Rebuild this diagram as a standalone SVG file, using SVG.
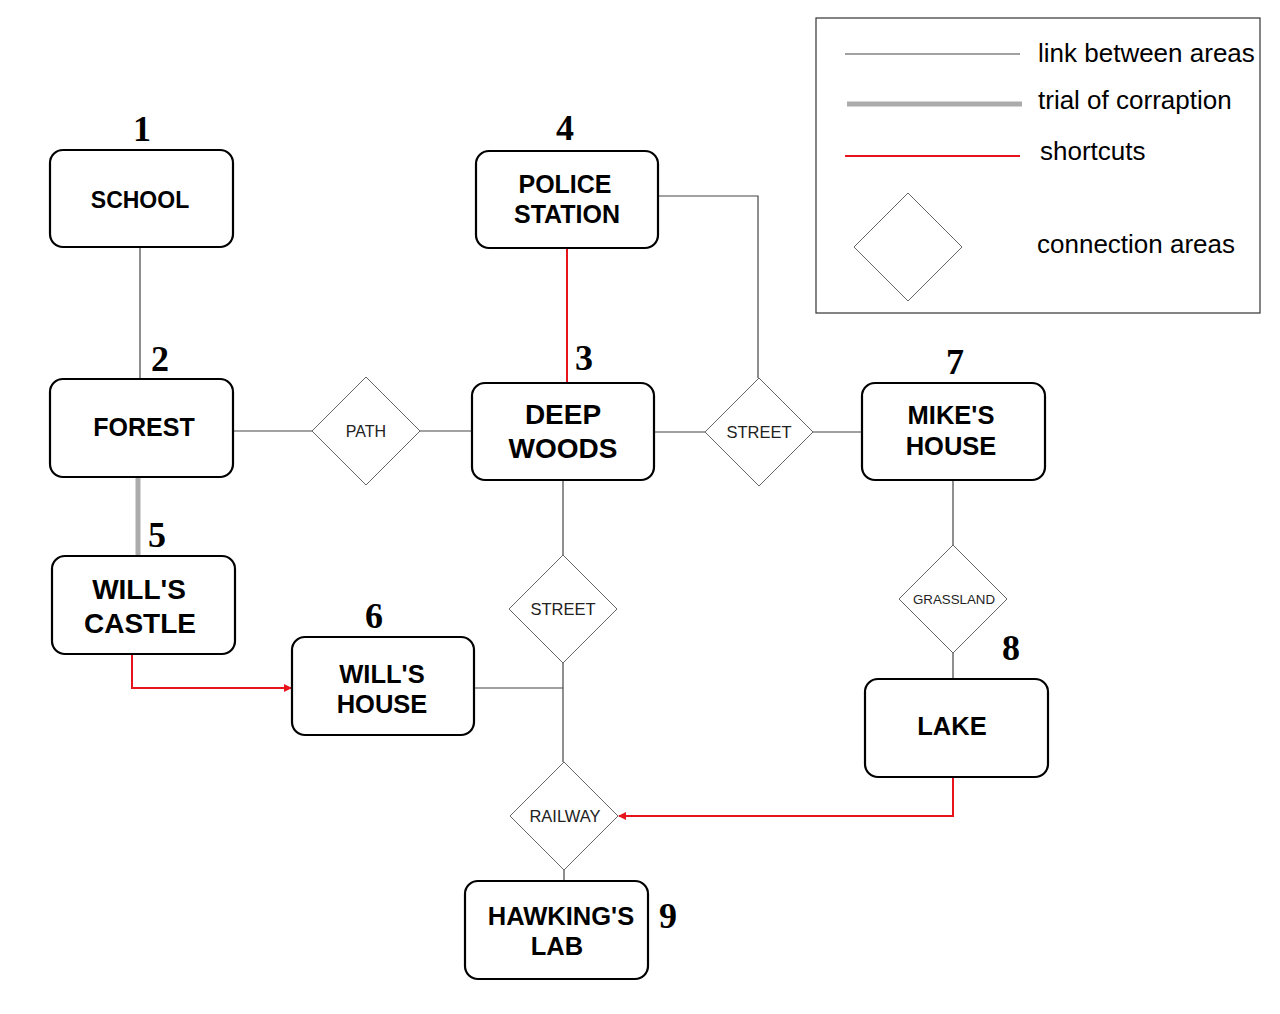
<svg xmlns="http://www.w3.org/2000/svg" width="1280" height="1014" viewBox="0 0 1280 1014">
<style>
.box{fill:#fff;stroke:#000;stroke-width:2.2}
.dia{fill:#fff;stroke:#666;stroke-width:1}
.lk{fill:none;stroke:#444;stroke-width:1.2}
.sc{fill:none;stroke:#e8141c;stroke-width:2}
.tr{fill:none;stroke:#ababab;stroke-width:5}
.nt{font-family:"Liberation Sans",Arial,sans-serif;font-weight:bold;fill:#000;text-anchor:middle}
.dt{font-family:"Liberation Sans",Arial,sans-serif;fill:#222;text-anchor:middle}
.num{font-family:"Liberation Serif","Times New Roman",serif;font-weight:bold;font-size:36px;fill:#000;text-anchor:middle}
.lg{font-family:"Liberation Sans",Arial,sans-serif;font-size:26px;fill:#000}
</style>
<defs>
<marker id="ar" markerWidth="8" markerHeight="8" refX="7" refY="4" orient="auto" markerUnits="userSpaceOnUse">
<path d="M0,0 L8,4 L0,8 Z" fill="#e8141c"/>
</marker>
</defs>
<rect width="1280" height="1014" fill="#fff"/>

<g id="connectors">
<line class="lk" x1="140" y1="247" x2="140" y2="379"/>
<line class="lk" x1="233" y1="431" x2="312" y2="431"/>
<line class="lk" x1="420" y1="431" x2="472" y2="431"/>
<line class="lk" x1="654" y1="432" x2="705" y2="432"/>
<line class="lk" x1="813" y1="432" x2="862" y2="432"/>
<polyline class="lk" points="658,196 758,196 758,378"/>
<line class="sc" x1="567" y1="249" x2="567" y2="383"/>
<line class="lk" x1="563" y1="480" x2="563" y2="555"/>
<line class="lk" x1="563" y1="663" x2="563" y2="762"/>
<line class="lk" x1="474" y1="688" x2="563" y2="688"/>
<line class="lk" x1="564" y1="870" x2="564" y2="881"/>
<line class="tr" x1="138" y1="477" x2="138" y2="556"/>
<polyline class="sc" points="132,654 132,688 291,688" marker-end="url(#ar)"/>
<line class="lk" x1="953" y1="480" x2="953" y2="545"/>
<line class="lk" x1="953" y1="653" x2="953" y2="679"/>
<polyline class="sc" points="953,777 953,816 619,816" marker-end="url(#ar)"/>
</g>

<g id="school">
<rect class="box" x="50" y="150" width="183" height="97" rx="13"/>
<text class="nt" x="140" y="208" font-size="23">SCHOOL</text>
<text class="num" x="142" y="141">1</text>
</g>
<g id="forest">
<rect class="box" x="50" y="379" width="183" height="98" rx="13"/>
<text class="nt" x="144" y="436" font-size="25">FOREST</text>
<text class="num" x="160" y="371">2</text>
</g>
<g id="deep-woods">
<rect class="box" x="472" y="383" width="182" height="97" rx="13"/>
<text class="nt" x="563" y="424" font-size="28">DEEP</text>
<text class="nt" x="563" y="458" font-size="28">WOODS</text>
<text class="num" x="584" y="370">3</text>
</g>
<g id="police-station">
<rect class="box" x="476" y="151" width="182" height="97" rx="13"/>
<text class="nt" x="565" y="193" font-size="25">POLICE</text>
<text class="nt" x="567" y="223" font-size="25">STATION</text>
<text class="num" x="565" y="140">4</text>
</g>
<g id="wills-castle">
<rect class="box" x="52" y="556" width="183" height="98" rx="13"/>
<text class="nt" x="139" y="599" font-size="28">WILL'S</text>
<text class="nt" x="140" y="633" font-size="28">CASTLE</text>
<text class="num" x="157" y="547">5</text>
</g>
<g id="wills-house">
<rect class="box" x="292" y="637" width="182" height="98" rx="13"/>
<text class="nt" x="382" y="683" font-size="25.5">WILL'S</text>
<text class="nt" x="382" y="713" font-size="25.5">HOUSE</text>
<text class="num" x="374" y="628">6</text>
</g>
<g id="mikes-house">
<rect class="box" x="862" y="383" width="183" height="97" rx="13"/>
<text class="nt" x="951" y="424" font-size="25.5">MIKE'S</text>
<text class="nt" x="951" y="455" font-size="25.5">HOUSE</text>
<text class="num" x="955" y="374">7</text>
</g>
<g id="lake">
<rect class="box" x="865" y="679" width="183" height="98" rx="13"/>
<text class="nt" x="952" y="735" font-size="25.5">LAKE</text>
<text class="num" x="1011" y="660">8</text>
</g>
<g id="hawkings-lab">
<rect class="box" x="465" y="881" width="183" height="98" rx="13"/>
<text class="nt" x="561" y="925" font-size="25.5">HAWKING'S</text>
<text class="nt" x="557" y="955" font-size="25.5">LAB</text>
<text class="num" x="668" y="928">9</text>
</g>

<g id="path">
<polygon class="dia" points="366,377 420,431 366,485 312,431"/>
<text class="dt" x="366" y="437" font-size="16">PATH</text>
</g>
<g id="street-right">
<polygon class="dia" points="759,378 813,432 759,486 705,432"/>
<text class="dt" x="759" y="438" font-size="16.5">STREET</text>
</g>
<g id="street-lower">
<polygon class="dia" points="563,555 617,609 563,663 509,609"/>
<text class="dt" x="563" y="615" font-size="16.5">STREET</text>
</g>
<g id="railway">
<polygon class="dia" points="564,762 618,816 564,870 510,816"/>
<text class="dt" x="565" y="822" font-size="16.5">RAILWAY</text>
</g>
<g id="grassland">
<polygon class="dia" points="953,545 1007,599 953,653 899,599"/>
<text class="dt" x="954" y="604" font-size="13.3">GRASSLAND</text>
</g>

<g id="legend">
<rect x="816" y="18" width="444" height="295" fill="#fff" stroke="#333" stroke-width="1.2"/>
<line x1="845" y1="54" x2="1020" y2="54" stroke="#444" stroke-width="1.2"/>
<line x1="847" y1="104" x2="1022" y2="104" stroke="#ababab" stroke-width="5"/>
<line x1="845" y1="156" x2="1020" y2="156" stroke="#e8141c" stroke-width="2"/>
<polygon points="908,193 962,247 908,301 854,247" fill="#fff" stroke="#666" stroke-width="1"/>
<text class="lg" x="1038" y="62">link between areas</text>
<text class="lg" x="1038" y="109">trial of corraption</text>
<text class="lg" x="1040" y="160">shortcuts</text>
<text class="lg" x="1037" y="253">connection areas</text>
</g>
</svg>
